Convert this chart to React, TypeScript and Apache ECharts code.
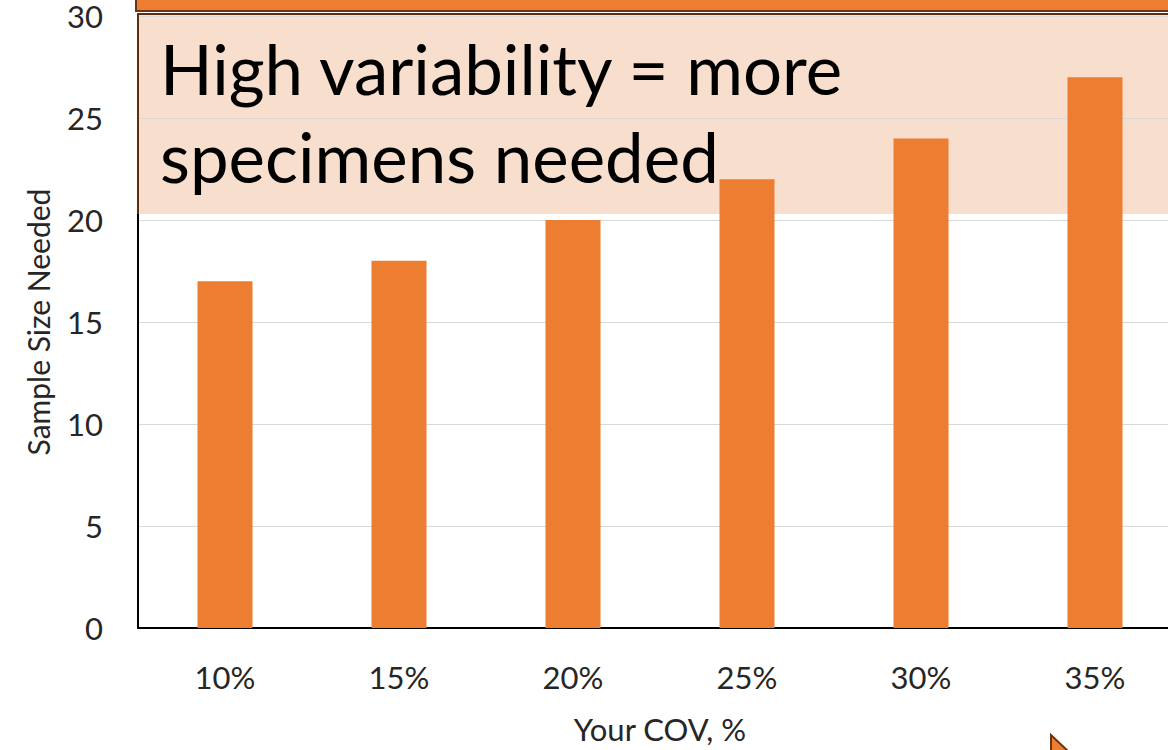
import React, { useEffect, useRef } from "react";
import * as echarts from "echarts";

const categories = ["10%", "15%", "20%", "25%", "30%", "35%"];
const sampleSize = [17, 18, 20, 22, 24, 27];
const yTicks = [0, 5, 10, 15, 20, 25, 30];
const calloutLines = ["High variability = more", "specimens needed"];

const FONT = "Lato, 'Open Sans', sans-serif";

export default function App() {
  const ref = useRef<HTMLDivElement>(null);
  useEffect(() => {
    if (!ref.current) return;
    const chart = echarts.init(ref.current, undefined, { renderer: "svg" });
    chart.setOption({
      animation: false,
      backgroundColor: "#ffffff",
      textStyle: { fontFamily: FONT },
      grid: { left: 138, top: 16, width: 1044, height: 612, containLabel: false },
      xAxis: {
        type: "category",
        data: categories,
        name: "Your COV, %",
        nameLocation: "middle",
        nameGap: 85,
        nameTextStyle: { fontSize: 31, color: "#262626", fontFamily: FONT },
        axisLine: { show: true, lineStyle: { color: "#000000", width: 2 } },
        axisTick: { show: false },
        axisLabel: { fontSize: 31, color: "#262626", margin: 33, fontFamily: FONT },
      },
      yAxis: {
        type: "value",
        min: yTicks[0],
        max: yTicks[yTicks.length - 1],
        interval: 5,
        name: "Sample Size Needed",
        nameLocation: "middle",
        nameRotate: 90,
        nameGap: 85,
        nameTextStyle: { fontSize: 30, color: "#262626", fontFamily: FONT },
        axisLine: { show: true, lineStyle: { color: "#000000", width: 2 } },
        axisTick: { show: false },
        axisLabel: { fontSize: 31, color: "#262626", margin: 35, fontFamily: FONT },
        splitLine: { show: true, lineStyle: { color: "#d9d9d9", width: 1 } },
      },
      series: [
        {
          type: "bar",
          data: sampleSize,
          barWidth: 55,
          itemStyle: { color: "#ED7D31" },
          z: 5,
        },
      ],
      graphic: [
        {
          type: "rect",
          z: -10,
          shape: { x: 137, y: 14, width: 1100, height: 200 },
          style: { fill: "#F8DECD" },
          silent: true,
        },
        {
          type: "line",
          z: 10,
          shape: { x1: 137, y1: 14, x2: 1200, y2: 14 },
          style: { stroke: "#5C2E10", lineWidth: 2 },
        },
        {
          type: "line",
          z: 10,
          shape: { x1: 138, y1: 13, x2: 138, y2: 214 },
          style: { stroke: "#5C2E10", lineWidth: 2 },
        },
        {
          type: "rect",
          z: 10,
          shape: { x: 136, y: -4, width: 1100, height: 15 },
          style: { fill: "#ED7D31", stroke: "#6B3513", lineWidth: 2 },
        },
        {
          type: "text",
          z: 20,
          x: 160,
          y: 68,
          style: {
            text: calloutLines[0],
            font: "69px " + FONT,
            fill: "#000000",
            verticalAlign: "middle",
            align: "left",
          },
        },
        {
          type: "text",
          z: 20,
          x: 160,
          y: 156,
          style: {
            text: calloutLines[1],
            font: "69px " + FONT,
            fill: "#000000",
            verticalAlign: "middle",
            align: "left",
          },
        },
        {
          type: "polygon",
          z: 20,
          shape: { points: [[1051, 735], [1070, 753], [1051, 753]] },
          style: { fill: "#ED7D31", stroke: "#6B3513", lineWidth: 2 },
        },
      ],
    });
    return () => chart.dispose();
  }, []);
  return (
    <div
      style={{
        position: "fixed",
        left: 0,
        top: 0,
        width: 1168,
        height: 750,
        overflow: "hidden",
        background: "#ffffff",
      }}
    >
      <div ref={ref} style={{ width: 1200, height: 750 }} />
    </div>
  );
}
